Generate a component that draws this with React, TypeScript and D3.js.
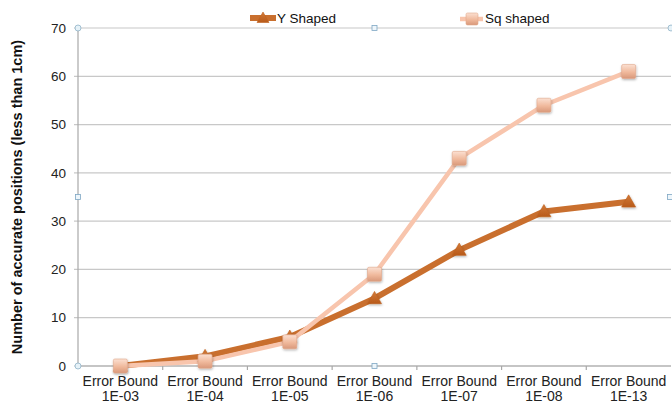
import React from "react";
import * as d3 from "d3";

const categories = ["1E-03", "1E-04", "1E-05", "1E-06", "1E-07", "1E-08", "1E-13"];
const categoryPrefix = "Error Bound";
const yShaped = [0, 2, 6, 14, 24, 32, 34];
const sqShaped = [0, 1, 5, 19, 43, 54, 61];
const yTicks = [0, 10, 20, 30, 40, 50, 60, 70];
const seriesNames = ["Y Shaped", "Sq shaped"];

const W = 672;
const H = 403;
const plot = { left: 78, right: 671, top: 28, bottom: 366 };

const FONT = "'Liberation Sans', Arial, sans-serif";
const DARK = "#c96f2e";
const DARK_MARK = "#c0621f";
const LIGHT = "#f8c5ad";

export default function App() {
  const x = d3
    .scaleBand<string>()
    .domain(categories)
    .range([plot.left, plot.right])
    .paddingInner(0)
    .paddingOuter(0);
  const y = d3.scaleLinear().domain([0, 70]).range([plot.bottom, plot.top]);
  const cx = (c: string) => (x(c) as number) + x.bandwidth() / 2;

  const line = d3
    .line<number>()
    .x((_, i) => cx(categories[i]))
    .y((d) => y(d));

  const tri = (px: number, py: number, s = 7) =>
    `M${px},${py - s} L${px + s},${py + s * 0.75} L${px - s},${py + s * 0.75} Z`;

  const midX = (plot.left + plot.right) / 2;
  const midY = (plot.top + plot.bottom) / 2;

  return (
    <svg
      width={W}
      height={H}
      style={{ position: "absolute", left: 0, top: 0, background: "#fff" }}
      fontFamily={FONT}
    >
      <defs>
        <linearGradient id="sqGrad" x1="0" y1="0" x2="0" y2="1">
          <stop offset="0%" stopColor="#fbe0d2" />
          <stop offset="55%" stopColor="#f0b99c" />
          <stop offset="100%" stopColor="#d9987a" />
        </linearGradient>
        <linearGradient id="triGrad" x1="0" y1="0" x2="0" y2="1">
          <stop offset="0%" stopColor="#d27a38" />
          <stop offset="100%" stopColor="#b85a1a" />
        </linearGradient>
        <filter id="shadow" x="-50%" y="-50%" width="200%" height="200%">
          <feDropShadow dx="0.5" dy="1.2" stdDeviation="0.8" floodColor="#000" floodOpacity="0.3" />
        </filter>
      </defs>

      {/* horizontal gridlines */}
      {yTicks.map((t) => (
        <line
          key={t}
          x1={plot.left - 4}
          x2={plot.right}
          y1={y(t)}
          y2={y(t)}
          stroke="#c8c8c8"
          strokeWidth={1.2}
        />
      ))}

      {/* axes */}
      <line x1={plot.left} x2={plot.left} y1={plot.top} y2={plot.bottom} stroke="#a8a8a8" strokeWidth={1.2} />
      <line x1={plot.left} x2={plot.right} y1={plot.bottom} y2={plot.bottom} stroke="#a8a8a8" strokeWidth={1.2} />
      {categories.map((c, i) =>
        i === 0 ? null : (
          <line
            key={c}
            x1={x(c)}
            x2={x(c)}
            y1={plot.bottom}
            y2={plot.bottom + 4}
            stroke="#a8a8a8"
            strokeWidth={1.2}
          />
        )
      )}

      {/* y tick labels */}
      {yTicks.map((t) => (
        <text
          key={t}
          x={plot.left - 12}
          y={y(t)}
          dy="0.35em"
          textAnchor="end"
          fontSize={13.5}
          fill="#222"
        >
          {t}
        </text>
      ))}

      {/* category labels */}
      {categories.map((c) => (
        <text key={c} x={cx(c)} textAnchor="middle" fontSize={14} fill="#222">
          <tspan x={cx(c)} y={386}>
            {categoryPrefix}
          </tspan>
          <tspan x={cx(c)} y={401}>
            {c}
          </tspan>
        </text>
      ))}

      {/* y axis title */}
      <text
        transform={`translate(22,${midY}) rotate(-90)`}
        textAnchor="middle"
        fontSize={14.5}
        fontWeight="bold"
        fill="#111"
      >
        Number of accurate positions (less than 1cm)
      </text>

      {/* series lines */}
      <path d={line(yShaped) ?? ""} fill="none" stroke={DARK} strokeWidth={6} strokeLinejoin="round" />
      <path d={line(sqShaped) ?? ""} fill="none" stroke={LIGHT} strokeWidth={4.5} strokeLinejoin="round" />

      {/* markers */}
      {yShaped.map((v, i) => (
        <path
          key={`t${i}`}
          d={tri(cx(categories[i]), y(v))}
          fill="url(#triGrad)"
          stroke={DARK_MARK}
          strokeWidth={0.6}
          filter="url(#shadow)"
        />
      ))}
      {sqShaped.map((v, i) => (
        <rect
          key={`s${i}`}
          x={cx(categories[i]) - 7}
          y={y(v) - 7}
          width={14}
          height={14}
          rx={1.5}
          fill="url(#sqGrad)"
          stroke="#e0a88c"
          strokeWidth={0.6}
          filter="url(#shadow)"
        />
      ))}

      {/* legend */}
      <g>
        <line x1={250} x2={276} y1={18} y2={18} stroke={DARK} strokeWidth={6} />
        <path d={tri(263, 18, 6)} fill="url(#triGrad)" stroke={DARK_MARK} strokeWidth={0.6} />
        <text x={277} y={18} dy="0.35em" fontSize={13.5} fill="#111">
          {seriesNames[0]}
        </text>
        <line x1={460} x2={483} y1={19} y2={19} stroke={LIGHT} strokeWidth={4.5} />
        <rect x={466} y={13} width={12} height={12} rx={1.5} fill="url(#sqGrad)" stroke="#e0a88c" strokeWidth={0.6} />
        <text x={485} y={18} dy="0.35em" fontSize={13.5} fill="#111">
          {seriesNames[1]}
        </text>
      </g>

      {/* selection handles on the plot area */}
      {[
        [plot.left, plot.top],
        [plot.right, plot.top],
        [plot.left, plot.bottom],
      ].map(([hx, hy], i) => (
        <circle key={`c${i}`} cx={hx} cy={hy} r={3} fill="#e6f2f8" stroke="#8fb3c8" strokeWidth={0.8} />
      ))}
      {[
        [midX, plot.top],
        [plot.left, midY],
        [midX, plot.bottom],
        [plot.right - 1, midY],
      ].map(([hx, hy], i) => (
        <rect
          key={`r${i}`}
          x={hx - 2.5}
          y={hy - 2.5}
          width={5}
          height={5}
          fill="#eef6fb"
          stroke="#7ea7c4"
          strokeWidth={0.8}
        />
      ))}
    </svg>
  );
}
